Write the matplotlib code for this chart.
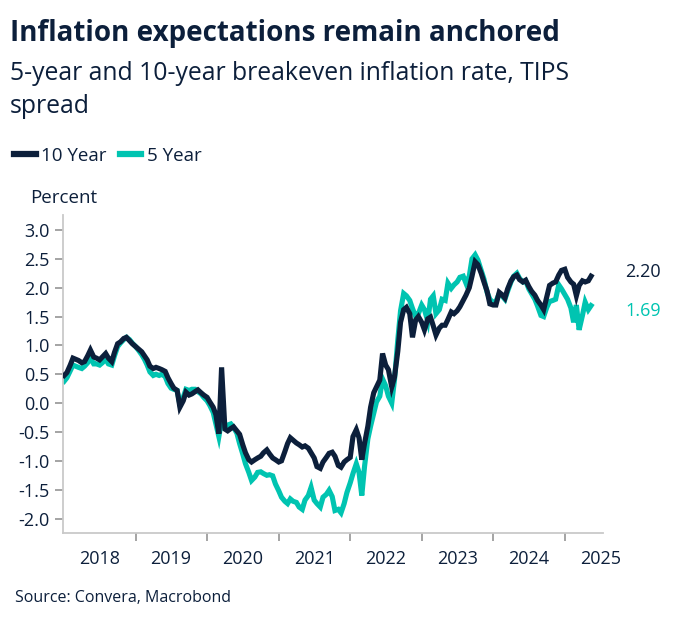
import matplotlib
matplotlib.use("Agg")
import matplotlib.pyplot as plt
from matplotlib.lines import Line2D
from matplotlib.transforms import blended_transform_factory
import pandas as pd

# ---------------- data (semi-monthly readings, Jan 2018 - May 2025) -------------
dates = pd.date_range("2018-01-01", "2025-05-15", freq="SMS")

ten_year = [
    # 2018
    0.48, 0.53, 0.66, 0.78, 0.76, 0.74, 0.70, 0.72, 0.82, 0.92, 0.80, 0.78,
    0.75, 0.80, 0.86, 0.78, 0.72, 0.88, 1.03, 1.06, 1.12, 1.14, 1.08, 1.03,
    # 2019
    0.98, 0.94, 0.89, 0.82, 0.75, 0.64, 0.60, 0.62, 0.60, 0.58, 0.55, 0.44,
    0.34, 0.26, 0.22, -0.07, 0.04, 0.19, 0.14, 0.16, 0.20, 0.23, 0.18, 0.14,
    # 2020
    0.10, 0.02, -0.07, -0.20, -0.53, 0.62, -0.45, -0.48, -0.44, -0.41, -0.48, -0.54,
    -0.72, -0.86, -0.98, -1.02, -0.98, -0.95, -0.92, -0.86, -0.81, -0.88, -0.95, -0.98,
    # 2021
    -1.02, -1.00, -0.84, -0.70, -0.60, -0.64, -0.69, -0.72, -0.76, -0.74, -0.78, -0.86,
    -0.95, -1.10, -1.13, -1.02, -0.94, -0.87, -0.85, -0.92, -1.08, -1.11, -1.02, -0.98,
    # 2022
    -0.94, -0.58, -0.46, -0.60, -0.98, -0.70, -0.40, -0.07, 0.18, 0.28, 0.40, 0.86,
    0.66, 0.58, 0.28, 0.45, 0.90, 1.40, 1.62, 1.66, 1.55, 1.14, 1.44, 1.50,
    # 2023
    1.40, 1.27, 1.46, 1.49, 1.34, 1.18, 1.30, 1.35, 1.35, 1.45, 1.58, 1.55,
    1.60, 1.67, 1.78, 1.87, 2.00, 2.20, 2.45, 2.40, 2.25, 2.10, 1.94, 1.72,
    # 2024
    1.70, 1.70, 1.92, 1.88, 1.82, 1.98, 2.12, 2.19, 2.22, 2.14, 2.10, 2.13,
    2.02, 1.94, 1.87, 1.78, 1.70, 1.62, 1.84, 2.04, 2.08, 2.10, 2.22, 2.30,
    # 2025
    2.32, 2.18, 2.10, 2.06, 1.86, 2.04, 2.12, 2.10, 2.12, 2.20,
]

five_year = [
    # 2018
    0.38, 0.44, 0.56, 0.66, 0.64, 0.62, 0.60, 0.64, 0.70, 0.78, 0.68, 0.68,
    0.66, 0.70, 0.76, 0.68, 0.66, 0.82, 0.98, 1.04, 1.10, 1.14, 1.10, 1.04,
    # 2019
    0.98, 0.92, 0.84, 0.76, 0.66, 0.54, 0.48, 0.50, 0.48, 0.50, 0.46, 0.34,
    0.26, 0.24, 0.22, -0.02, 0.10, 0.24, 0.22, 0.24, 0.24, 0.20, 0.16, 0.10,
    # 2020
    0.04, -0.04, -0.16, -0.36, -0.58, -0.30, -0.40, -0.38, -0.36, -0.42, -0.52, -0.70,
    -0.88, -1.05, -1.20, -1.34, -1.28, -1.20, -1.19, -1.22, -1.25, -1.24, -1.26, -1.40,
    # 2021
    -1.52, -1.63, -1.70, -1.74, -1.66, -1.70, -1.72, -1.80, -1.84, -1.68, -1.60, -1.46,
    -1.68, -1.74, -1.80, -1.63, -1.58, -1.51, -1.62, -1.86, -1.84, -1.90, -1.74, -1.55,
    # 2022
    -1.38, -1.22, -1.05, -1.20, -1.60, -1.10, -0.62, -0.40, -0.18, 0.02, 0.12, 0.42,
    0.30, 0.12, 0.00, 0.40, 1.10, 1.60, 1.90, 1.86, 1.78, 1.64, 1.50, 1.55,
    # 2023
    1.70, 1.62, 1.42, 1.80, 1.86, 1.55, 1.62, 1.80, 1.78, 2.08, 1.99, 2.05,
    2.10, 2.18, 2.20, 2.08, 2.20, 2.50, 2.57, 2.48, 2.30, 2.15, 1.92, 1.80,
    # 2024
    1.74, 1.76, 1.90, 1.86, 1.80, 1.94, 2.10, 2.20, 2.25, 2.16, 2.10, 2.12,
    1.98, 1.90, 1.80, 1.68, 1.52, 1.50, 1.66, 1.76, 1.78, 1.80, 2.05, 1.98,
    # 2025
    1.88, 1.80, 1.65, 1.40, 1.70, 1.27, 1.52, 1.75, 1.62, 1.69,
]

series_names = ["10 Year", "5 Year"]
year_labels = ["2018", "2019", "2020", "2021", "2022", "2023", "2024", "2025"]
y_ticks = [3.0, 2.5, 2.0, 1.5, 1.0, 0.5, 0.0, -0.5, -1.0, -1.5, -2.0]

# ---------------- style -------------
NAVY = "#0c1f3b"
TEAL = "#00c4b1"
TEXT = "#0c1f3b"
GREY = "#c9c9c9"
FONT = ["Open Sans", "DejaVu Sans"]
plt.rcParams["font.family"] = FONT

W, H = 679, 626
fig = plt.figure(figsize=(W / 100, H / 100), dpi=100)
ax = fig.add_axes([63 / W, 1 - 533 / H, (603 - 63) / W, (533 - 215) / H])

ax.plot(dates, five_year, color=TEAL, lw=3.7, solid_joinstyle="miter", zorder=2)
ax.plot(dates, ten_year, color=NAVY, lw=3.7, solid_joinstyle="miter", zorder=3)

ax.set_ylim(-2.25, 3.26)
ax.set_xlim(pd.Timestamp("2017-12-26"), pd.Timestamp("2025-07-15"))
ax.set_yticks(y_ticks)
ax.set_yticklabels([f"{v:.1f}" for v in y_ticks])

major = [pd.Timestamp(f"{y}-01-01") for y in range(2019, 2026)]
minor = [pd.Timestamp(f"{y}-07-01") for y in year_labels]
ax.set_xticks(major)
ax.set_xticklabels([""] * len(major))
ax.set_xticks(minor, minor=True)
ax.set_xticklabels(year_labels, minor=True)

for s in ["top", "right"]:
    ax.spines[s].set_visible(False)
for s in ["left", "bottom"]:
    ax.spines[s].set_color(GREY)
    ax.spines[s].set_linewidth(1.3)

ax.tick_params(axis="y", which="major", length=5.5, width=1.1, color="#8c8c8c",
               labelsize=13, labelcolor=TEXT, pad=4)
ax.tick_params(axis="x", which="major", length=5.5, width=1.1, color="#8c8c8c")
ax.tick_params(axis="x", which="minor", length=0, labelsize=13, labelcolor=TEXT, pad=12)

# end-value labels
tr = blended_transform_factory(ax.transAxes, ax.transData)
ax.text(1.041, ten_year[-1] + 0.07, f"{ten_year[-1]:.2f}", transform=tr, color=NAVY,
        fontsize=13, va="center", ha="left")
ax.text(1.041, five_year[-1] - 0.09, f"{five_year[-1]:.2f}", transform=tr, color=TEAL,
        fontsize=13, va="center", ha="left")

# titles
fig.text(10 / W, 1 - 34 / H, "Inflation expectations remain anchored", fontsize=20,
         fontweight="bold", color=TEXT, va="center", ha="left")
fig.text(10 / W, 1 - 90 / H, "5-year and 10-year breakeven inflation rate, TIPS\nspread",
         fontsize=17.8, color=TEXT, va="center", ha="left", linespacing=1.38)

# legend
handles = [Line2D([], [], color=NAVY, lw=4.5), Line2D([], [], color=TEAL, lw=4.5)]
fig.legend(handles, series_names, loc="center left", bbox_to_anchor=(14 / W, 1 - 156 / H),
           ncol=2, frameon=False, fontsize=13.5, handlelength=1.15, handletextpad=0.3,
           columnspacing=0.7, labelcolor=TEXT, borderaxespad=0, borderpad=0)

fig.text(30 / W, 1 - 198 / H, "Percent", fontsize=13.5, color=TEXT, va="center", ha="left")
fig.text(15 / W, 1 - 598 / H, "Source: Convera, Macrobond", fontsize=11.5, color=TEXT,
         va="center", ha="left")

fig.savefig("out.png", dpi=100)
